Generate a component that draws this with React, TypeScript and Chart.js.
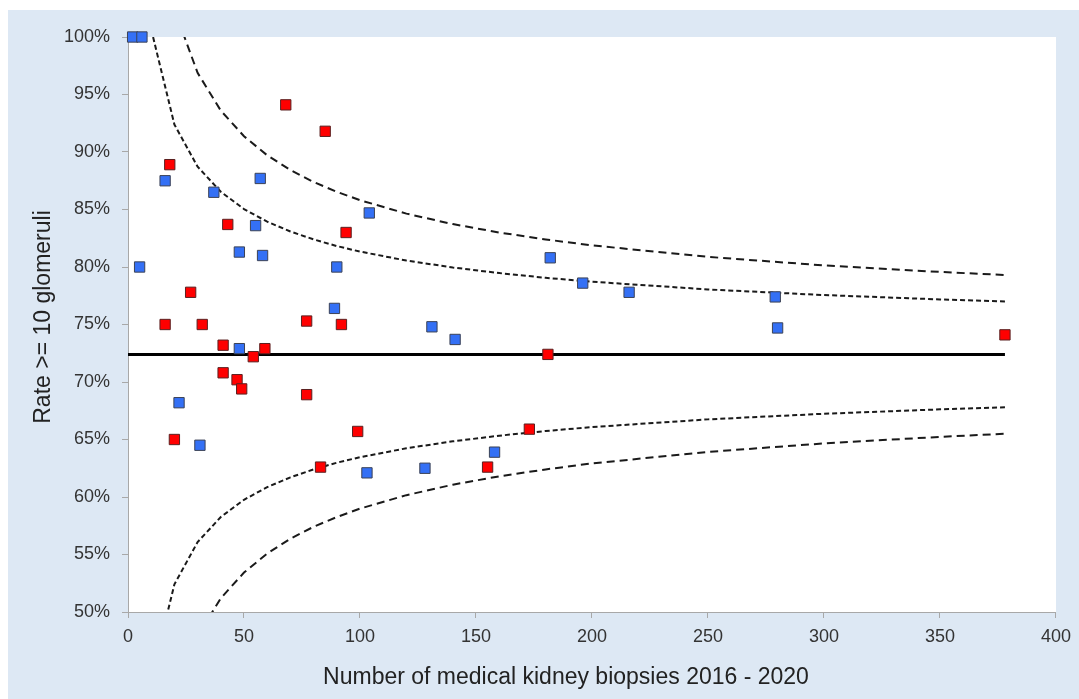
import React, { useEffect, useRef } from "react";
import { Chart, registerables } from "chart.js";

Chart.register(...registerables);

const blueX = [2, 6, 16, 37, 57, 55, 48, 58, 5, 90, 89, 48, 22, 31, 104, 182, 196, 216, 131, 141, 103, 128, 158, 279, 280];
const blueY = [100, 100, 87.5, 86.5, 87.7, 83.6, 81.3, 81.0, 80, 80, 76.4, 72.9, 68.2, 64.5, 84.7, 80.8, 78.6, 77.8, 74.8, 73.7, 62.1, 62.5, 63.9, 77.4, 74.7];
const redX = [18, 68, 85, 43, 94, 27, 16, 32, 77, 92, 41, 54, 59, 41, 47, 49, 77, 20, 99, 83, 181, 155, 173, 378];
const redY = [88.9, 94.1, 91.8, 83.7, 83.0, 77.8, 75, 75, 75.3, 75, 73.2, 72.2, 72.9, 70.8, 70.2, 69.4, 68.9, 65, 65.7, 62.6, 72.4, 62.6, 65.9, 74.1];

const limitN = [10, 20, 30, 40, 50, 60, 70, 80, 90, 100, 120, 140, 160, 180, 200, 250, 300, 350, 378];
const innerUpper = [100.67, 92.39, 88.72, 86.54, 85.04, 83.94, 83.09, 82.4, 81.82, 81.34, 80.56, 79.96, 79.47, 79.06, 78.72, 78.05, 77.56, 77.18, 77.0];
const innerLower = [44.13, 52.41, 56.08, 58.26, 59.76, 60.86, 61.71, 62.4, 62.98, 63.46, 64.24, 64.84, 65.33, 65.74, 66.08, 66.75, 67.24, 67.62, 67.8];
const outerUpper = [114.81, 102.39, 96.88, 93.6, 91.37, 89.71, 88.43, 87.39, 86.54, 85.81, 84.64, 83.73, 83.0, 82.4, 81.88, 80.88, 80.14, 79.57, 79.3];
const outerLower = [29.99, 42.41, 47.92, 51.2, 53.43, 55.09, 56.37, 57.41, 58.26, 58.99, 60.16, 61.07, 61.8, 62.4, 62.92, 63.92, 64.66, 65.23, 65.5];

const meanX = [0, 378];
const meanY = [72.4, 72.4];

const xTitle = "Number of medical kidney biopsies 2016 - 2020";
const yTitle = "Rate >= 10 glomeruli";

const FONT = "'Liberation Sans', Arial, sans-serif";

const zip = (xs: number[], ys: number[]) => xs.map((x, i) => ({ x, y: ys[i] }));

export default function App() {
  const ref = useRef<HTMLCanvasElement | null>(null);

  useEffect(() => {
    if (!ref.current) return;
    const bgPlugin = {
      id: "plotBg",
      beforeDraw(chart: any) {
        const { ctx, chartArea } = chart;
        ctx.save();
        ctx.fillStyle = "#ffffff";
        ctx.fillRect(chartArea.left, chartArea.top, chartArea.right - chartArea.left, chartArea.bottom - chartArea.top);
        ctx.restore();
      },
      afterDraw(chart: any) {
        const { ctx } = chart;
        ctx.save();
        ctx.fillStyle = "#222222";
        ctx.font = `23px ${FONT}`;
        ctx.textAlign = "center";
        ctx.textBaseline = "middle";
        ctx.fillText(xTitle, 558, 668);
        ctx.translate(36, 307);
        ctx.rotate(-Math.PI / 2);
        ctx.fillText(yTitle, 0, 0);
        ctx.restore();
      },
    };

    const lineDs = (data: number[], dash: number[], width: number) => ({
      type: "line" as const,
      data: zip(limitN, data),
      borderColor: "#1a1a1a",
      borderWidth: width,
      borderDash: dash,
      pointRadius: 0,
      fill: false,
      tension: 0,
      showLine: true,
    });

    const chart = new Chart(ref.current, {
      type: "scatter",
      data: {
        datasets: [
          {
            label: "Blue",
            data: zip(blueX, blueY),
            pointStyle: "rect",
            pointRadius: 7.3,
            pointBackgroundColor: "#3470f5",
            pointBorderColor: "#3b4256",
            pointBorderWidth: 1,
            clip: false,
          } as any,
          {
            label: "Red",
            data: zip(redX, redY),
            pointStyle: "rect",
            pointRadius: 7.3,
            pointBackgroundColor: "#ff0000",
            pointBorderColor: "#5a2020",
            pointBorderWidth: 1,
            clip: false,
          } as any,
          {
            type: "line",
            data: zip(meanX, meanY),
            borderColor: "#000000",
            borderWidth: 3,
            pointRadius: 0,
            fill: false,
          } as any,
          lineDs(innerUpper, [5, 3], 2) as any,
          lineDs(innerLower, [5, 3], 2) as any,
          lineDs(outerUpper, [8, 5], 2) as any,
          lineDs(outerLower, [8, 5], 2) as any,
        ],
      },
      options: {
        responsive: false,
        animation: false,
        layout: { padding: { top: 27, right: 23, left: 0, bottom: 0 } },
        plugins: {
          legend: { display: false },
          tooltip: { enabled: false },
          title: { display: false },
        },
        scales: {
          x: {
            type: "linear",
            min: 0,
            max: 400,
            ticks: { stepSize: 50, color: "#333333", font: { size: 18, family: FONT }, padding: 8, maxRotation: 0 },
            grid: { display: true, drawOnChartArea: false, drawTicks: true, tickLength: 6, color: "#a8a8a8" },
            border: { display: true, color: "#a8a8a8", width: 1 },
            afterFit(scale: any) {
              scale.height = 87;
            },
          },
          y: {
            type: "linear",
            min: 50,
            max: 100,
            ticks: {
              stepSize: 5,
              color: "#333333",
              font: { size: 18, family: FONT },
              padding: 12,
              callback: (v: any) => `${v}%`,
            },
            grid: { display: true, drawOnChartArea: false, drawTicks: true, tickLength: 6, color: "#a8a8a8" },
            border: { display: true, color: "#a8a8a8", width: 1 },
            afterFit(scale: any) {
              scale.width = 120;
            },
          },
        },
      },
      plugins: [bgPlugin],
    } as any);

    return () => chart.destroy();
  }, []);

  return (
    <div style={{ position: "absolute", left: 8, top: 10, width: 1071, height: 689, background: "#dde8f4" }}>
      <canvas ref={ref} width={1071} height={689} style={{ display: "block" }} />
    </div>
  );
}
